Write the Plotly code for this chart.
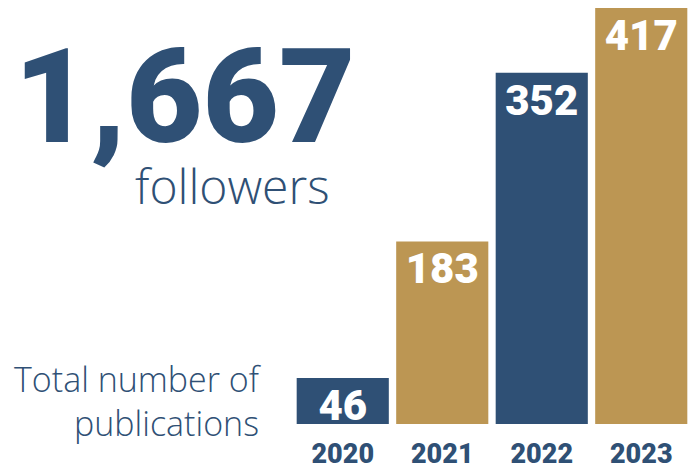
import plotly.graph_objects as go

years = ["2020", "2021", "2022", "2023"]
publications = [46, 183, 352, 417]
bar_colors = ["#2F5075", "#BC9653", "#2F5075", "#BC9653"]
followers_total = "1,667"
followers_label = "followers"
pub_label_1 = "Total number of"
pub_label_2 = "publications"

BLUE = "#2F5075"
W, H = 693, 472
L, R, T, B = 293, 2, 8, 38
PW, PH = W - L - R, H - T - B


def px(x):
    return (x - L) / PW


def py(y):
    return (H - B - y) / PH


fig = go.Figure(
    go.Bar(
        x=years,
        y=publications,
        marker=dict(color=bar_colors, line=dict(width=0)),
        text=[str(v) for v in publications],
        textposition="inside",
        insidetextanchor="end",
        textangle=0,
        textfont=dict(family="Roboto", size=42, color="white", weight=900),
        cliponaxis=False,
        hoverinfo="skip",
    )
)

fig.update_layout(
    width=W,
    height=H,
    margin=dict(l=L, r=R, t=T, b=B, pad=0),
    paper_bgcolor="white",
    plot_bgcolor="white",
    bargap=0.074,
    showlegend=False,
    uniformtext=dict(minsize=42, mode="show"),
    xaxis=dict(
        type="category",
        showgrid=False,
        zeroline=False,
        showline=False,
        ticks="outside",
        ticklen=6,
        tickcolor="rgba(0,0,0,0)",
        tickfont=dict(family="Roboto", size=27, color=BLUE, weight=900),
    ),
    yaxis=dict(
        range=[0, 417],
        visible=False,
        showgrid=False,
        zeroline=False,
    ),
    annotations=[
        dict(
            text=followers_total, xref="paper", yref="paper",
            x=px(12), y=py(99), xanchor="left", yanchor="middle",
            showarrow=False,
            font=dict(family="Roboto", size=132, color=BLUE, weight=900),
        ),
        dict(
            text=followers_label, xref="paper", yref="paper",
            x=px(332), y=py(190), xanchor="right", yanchor="middle",
            showarrow=False,
            font=dict(family="Open Sans", size=48, color=BLUE, weight=300),
        ),
        dict(
            text=pub_label_1 + "<br>" + pub_label_2, xref="paper", yref="paper",
            x=px(264), y=py(410), xanchor="right", yanchor="middle",
            align="right", showarrow=False,
            font=dict(family="Open Sans", size=34, color=BLUE, weight=300),
        ),
    ],
)

fig.write_html(
    "out.html",
    config={"displayModeBar": False},
    post_script="document.body.style.margin='0';",
)
